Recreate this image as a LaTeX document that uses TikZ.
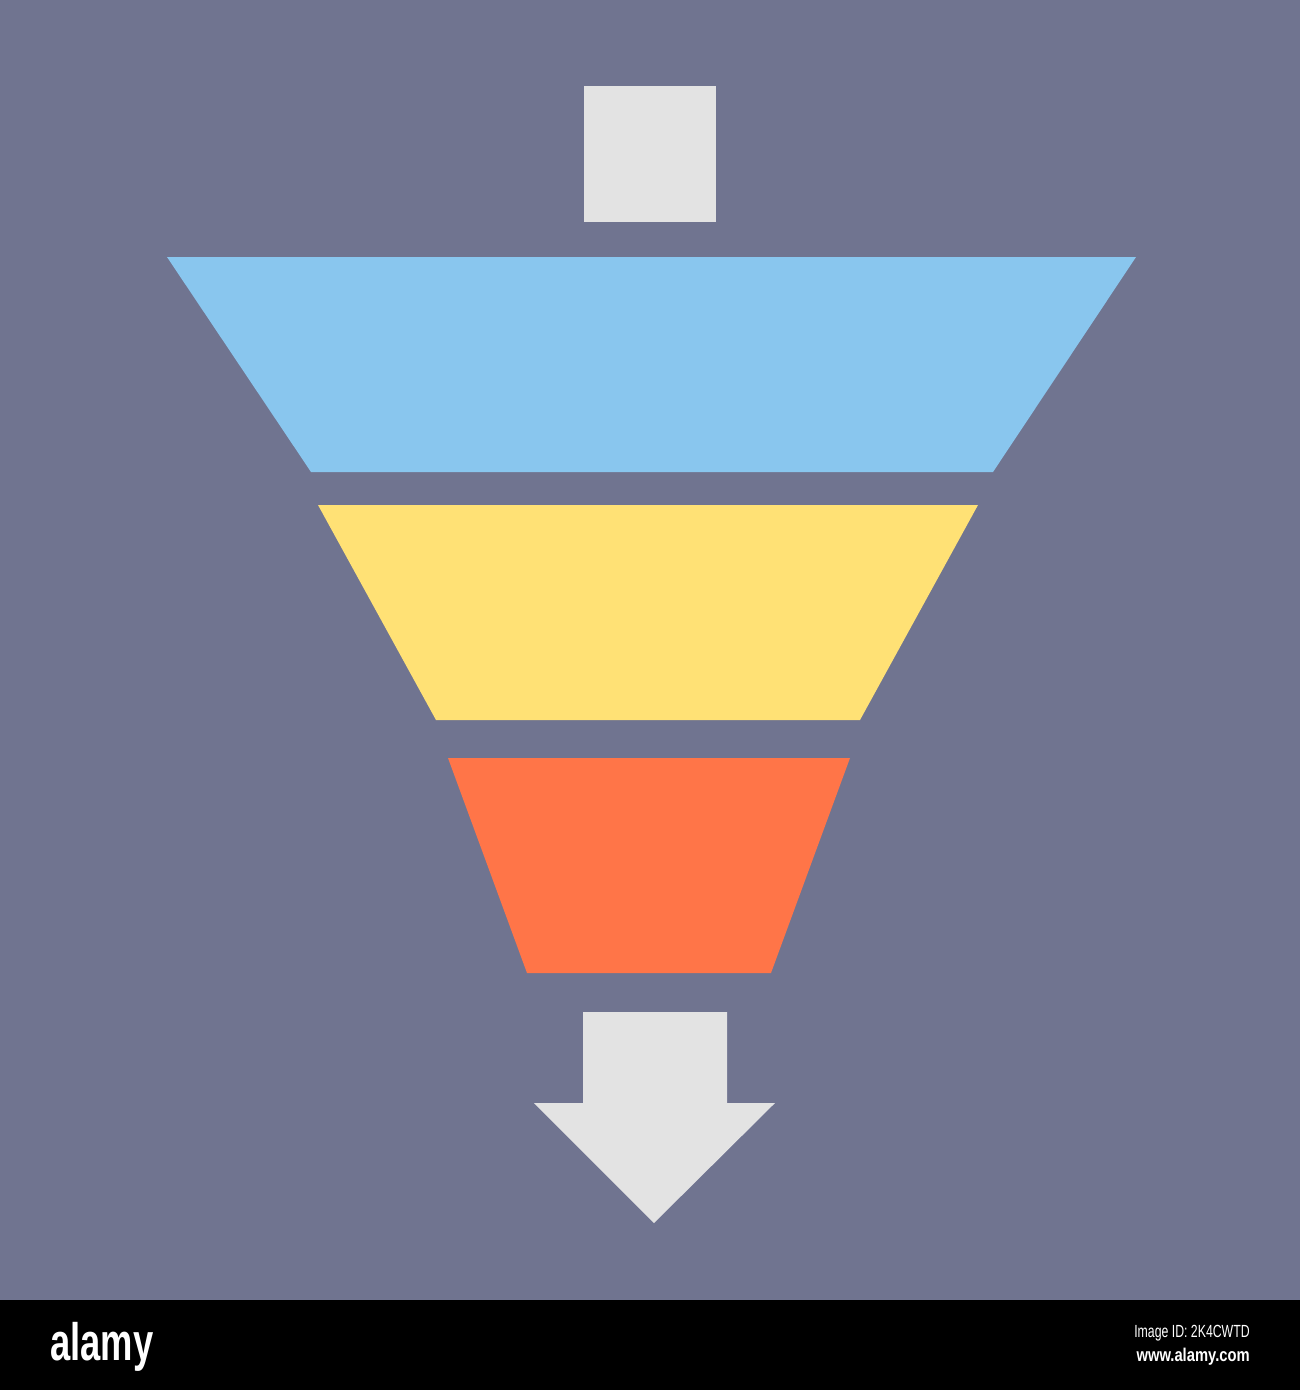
\documentclass[tikz,border=0pt]{standalone}
\usepackage{fontspec}
\setsansfont{Liberation Sans}
\usepackage{tikz}
\usetikzlibrary{positioning}
\definecolor{slate}{HTML}{707490}
\definecolor{skyband}{HTML}{89C6EE}
\definecolor{sunband}{HTML}{FFE175}
\definecolor{emberband}{HTML}{FF7548}
\definecolor{paper}{HTML}{E3E3E3}
\tikzstyle{band} = [draw=none]
\tikzstyle{logo} = [white, font=\sffamily\bfseries, inner sep=0pt]

\begin{document}
\begin{tikzpicture}[x=0.02cm, y=-0.02cm]
  % Background and bottom bar
  \fill[slate] (0,0) rectangle (1300,1300);
  \fill[black] (0,1300) rectangle (1300,1390);
  \useasboundingbox (0,0) rectangle (1300,1390);
  % Input block
  \fill[paper] (584,86) rectangle (716,222);
  % Funnel bands
  \fill[band, skyband] (167,257) -- (1136,257) -- (993,472) -- (311,472) -- cycle;
  \fill[band, sunband] (318,505) -- (978,505) -- (860,720) -- (436,720) -- cycle;
  \fill[band, emberband] (448,758) -- (850,758) -- (771,973) -- (527,973) -- cycle;
  % Output arrow
  \fill[paper] (583,1012) -- (727,1012) -- (727,1103) -- (775,1103)
    -- (654,1223) -- (534,1103) -- (583,1103) -- cycle;
  % Bar texts
  \node[logo, anchor=base west, font=\sffamily\bfseries\fontsize{30}{30}\selectfont, xscale=0.69]
    (brand) at (50,1360) {alamy};
  \node[logo, anchor=east, font=\sffamily\fontsize{10}{10}\selectfont, xscale=0.7]
    (imgid) at (1250,1333) {Image ID: 2K4CWTD};
  \node[logo, anchor=east, font=\sffamily\bfseries\fontsize{10.5}{10.5}\selectfont, xscale=0.8]
    (site) at (1250,1357) {www.alamy.com};
\end{tikzpicture}
\end{document}
